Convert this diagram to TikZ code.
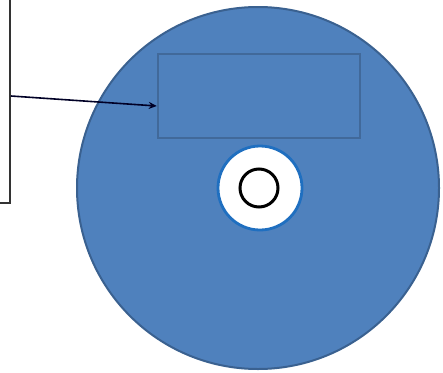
\documentclass[tikz,border=0pt]{standalone}
\usetikzlibrary{arrows.meta}
\definecolor{discfill}{HTML}{4F81BD}
\definecolor{discedge}{HTML}{3A6190}
\definecolor{labeledge}{HTML}{41699A}
\definecolor{hubedge}{HTML}{1F6FC0}
\tikzset{
  disc/.style={circle, fill=discfill, draw=discedge, line width=2pt, inner sep=0pt},
  labelbox/.style={rectangle, draw=labeledge, line width=2.5pt, inner sep=0pt},
  hub/.style={circle, fill=white, draw=hubedge, line width=2.8pt, inner sep=0pt},
  hole/.style={circle, draw=black, line width=3pt, inner sep=0pt},
  callout/.style={rectangle, draw=black!80, line width=2pt, inner sep=0pt},
  pointer/.style={-{Stealth[length=8pt,width=7pt]}, line width=1.6pt, draw=black!85!blue}
}
\begin{document}
\begin{tikzpicture}[x=1pt,y=-1pt]
\useasboundingbox (0,0) rectangle (443,372);
\clip (0,0) rectangle (443,372);
\fill[white] (0,0) rectangle (443,372);
\node[disc, minimum size=362pt] (disc) at (258,188) {};
\node[labelbox, minimum width=202pt, minimum height=84pt] (label) at (259,96) {};
\node[hub, minimum size=84pt] (hub) at (260,188) {};
\node[hole, minimum size=38pt] (hole) at (259,188) {};
\node[callout, minimum width=60pt, minimum height=243pt] (note) at (-20,81) {};
\coordinate (start) at (note.east |- 0,96);
\coordinate (end) at (label.west |- 0,106);
\draw[pointer] (start) -- (end);
\end{tikzpicture}
\end{document}
